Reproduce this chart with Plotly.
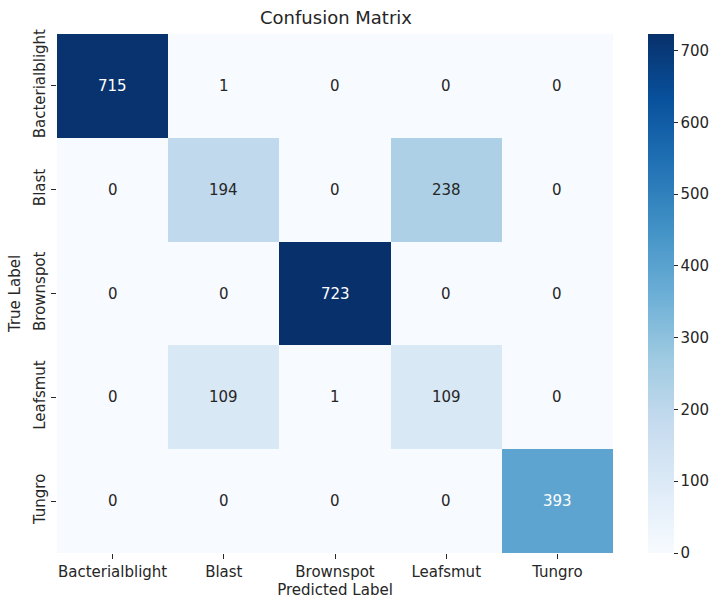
import plotly.graph_objects as go

# Confusion matrix for the rice leaf disease classifier
classes = ["Bacterialblight", "Blast", "Brownspot", "Leafsmut", "Tungro"]
counts = [
    [715, 1, 0, 0, 0],
    [0, 194, 0, 238, 0],
    [0, 0, 723, 0, 0],
    [0, 109, 1, 109, 0],
    [0, 0, 0, 0, 393],
]
cbar_ticks = [0, 100, 200, 300, 400, 500, 600, 700]

# ColorBrewer Blues (same stops as matplotlib's "Blues")
blues = [
    (247, 251, 255), (222, 235, 247), (198, 219, 239), (158, 202, 225),
    (107, 174, 214), (66, 146, 198), (33, 113, 181), (8, 81, 156), (8, 48, 107),
]
colorscale = [[i / (len(blues) - 1), "rgb(%d,%d,%d)" % c] for i, c in enumerate(blues)]

zmin = 0
zmax = max(max(r) for r in counts)


def cell_rgb(v):
    t = (v - zmin) / (zmax - zmin) * (len(blues) - 1)
    i = min(int(t), len(blues) - 2)
    f = t - i
    return [blues[i][k] + (blues[i + 1][k] - blues[i][k]) * f for k in range(3)]


def luminance(rgb):
    out = []
    for c in rgb:
        c = c / 255.0
        out.append(c / 12.92 if c <= 0.03928 else ((c + 0.055) / 1.055) ** 2.4)
    return 0.2126 * out[0] + 0.7152 * out[1] + 0.0722 * out[2]


font_family = "DejaVu Sans"
text_color = "#262626"
fs = 15

fig = go.Figure(
    go.Heatmap(
        z=counts,
        x=classes,
        y=classes,
        colorscale=colorscale,
        zmin=zmin,
        zmax=zmax,
        xgap=0,
        ygap=0,
        colorbar=dict(
            thickness=26,
            len=1,
            lenmode="fraction",
            x=1.0627,
            xanchor="left",
            y=0.5,
            yanchor="middle",
            outlinewidth=0,
            tickvals=cbar_ticks,
            ticks="outside",
            ticklen=4,
            tickcolor=text_color,
            tickfont=dict(family=font_family, size=fs, color=text_color),
            xpad=0,
            ypad=0,
        ),
        hoverinfo="skip",
    )
)

annotations = []
for r, row in enumerate(counts):
    for c, v in enumerate(row):
        col = "white" if luminance(cell_rgb(v)) <= 0.408 else text_color
        annotations.append(
            dict(
                x=classes[c], y=classes[r], text=str(v), showarrow=False,
                font=dict(family=font_family, size=fs, color=col),
            )
        )

fig.update_layout(
    width=721,
    height=608,
    margin=dict(l=57, r=106, t=34, b=55),
    paper_bgcolor="white",
    plot_bgcolor="white",
    font=dict(family=font_family, color=text_color),
    title=dict(
        text="Confusion Matrix",
        x=(57 + 615) / 2 / 721,
        xanchor="center",
        y=1 - 18 / 608,
        yanchor="middle",
        font=dict(family=font_family, size=18, color=text_color),
    ),
    annotations=annotations,
)

fig.update_xaxes(
    title=dict(text="Predicted Label", font=dict(size=fs), standoff=4),
    tickfont=dict(size=fs),
    ticks="outside",
    ticklen=5,
    tickcolor=text_color,
    showgrid=False,
    zeroline=False,
    showline=False,
)
fig.update_yaxes(
    title=dict(text="True Label", font=dict(size=fs), standoff=6),
    tickfont=dict(size=fs),
    tickangle=-90,
    ticks="outside",
    ticklen=5,
    tickcolor=text_color,
    autorange="reversed",
    showgrid=False,
    zeroline=False,
    showline=False,
)

fig.write_html("out.html")
